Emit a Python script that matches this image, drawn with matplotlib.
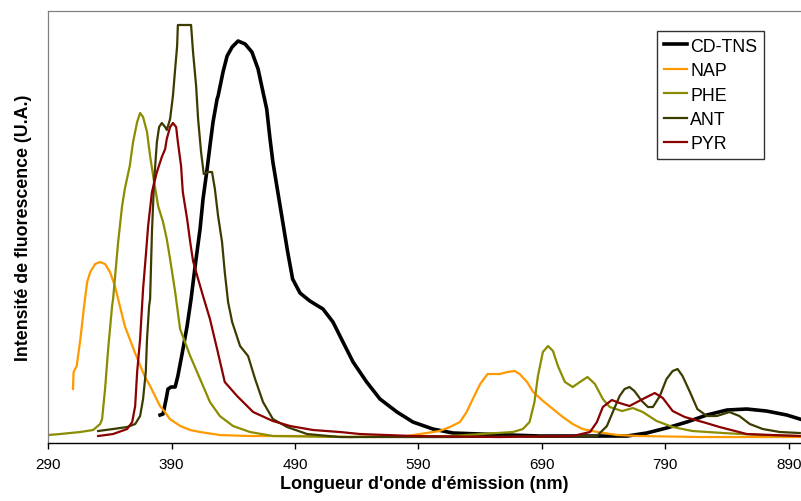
import matplotlib
matplotlib.use("Agg")
import matplotlib.pyplot as plt

plt.rcParams['font.family'] = ['Liberation Sans', 'DejaVu Sans']

# emission spectra: wavelength (nm) / intensity (a.u.)
cd_nm = [380.6, 383, 385.5, 387, 389.5, 392.8, 395, 398.4, 402.5, 405.7, 409, 413, 415.4, 418.7,
         421, 423.5, 426.8, 427.6, 431.6, 434.9, 439, 443.8, 449.5, 455, 460, 464, 467, 469.7,
         472, 476, 480, 484, 488, 494, 502, 512.6, 520.7, 528.8, 537, 548, 558.8, 572.6, 585.5,
         601.7, 618, 640, 688.4, 742.7, 759, 775, 791, 807.5, 823.7, 840, 856, 872, 888.5, 899]
cd_int = [28, 29, 44, 54, 56, 56, 67, 89, 117, 144, 177, 214, 244, 274,
          297, 321, 344, 347, 371, 387, 396, 402, 399, 391, 374, 351, 334, 304,
          281, 251, 221, 191, 164, 150, 142, 134, 121, 101, 81, 61, 44, 31, 21,
          14, 10, 9, 7, 7, 7, 10, 15, 21, 28, 33, 34, 32, 28, 24]

nap_nm = [310, 310.5, 313, 316, 319, 321.5, 324, 328, 332, 336, 340, 344, 348, 352, 356, 360,
          364, 368, 372.5, 376.5, 380.5, 384.5, 388.5, 397, 405, 413, 429, 453, 494, 534.5,
          580.7, 607, 615.5, 623.6, 629, 634, 640, 646, 656, 662, 668, 672, 678, 683, 691,
          699, 707, 715, 723, 735, 751, 769, 818, 899]
nap_int = [54, 71, 77, 104, 137, 161, 171, 179, 181, 179, 171, 157, 137, 117, 104, 91,
           79, 67, 57, 47, 37, 31, 24, 17, 13, 11, 8, 7, 7, 6,
           7, 12, 16, 21, 31, 44, 59, 69, 69, 71, 72, 69, 61, 51, 42,
           34, 26, 19, 14, 11, 8, 7, 6, 6]

phe_nm = [290, 299.6, 315.8, 326.3, 332, 333.6, 336, 338.5, 341.7, 342.5, 346.6, 349.8, 352,
          356, 358.7, 362, 364.4, 366.8, 370, 372.5, 375, 379, 383, 386, 388.7, 392.8, 396.8,
          405, 413, 421, 429, 439.7, 453.5, 472, 534.5, 615.5, 666.5, 674.6, 680, 684, 686.8,
          690.8, 695, 699, 703, 708.7, 715, 720.8, 727, 733, 739.4, 745, 755, 763.7, 771.8,
          783, 796, 812, 837, 866.6, 899]
phe_int = [8, 9, 11, 13, 19, 24, 54, 94, 137, 144, 201, 237, 254,
           277, 301, 321, 330, 326, 311, 287, 267, 237, 221, 204, 184, 151, 114,
           87, 64, 41, 27, 17, 11, 7, 6, 7, 11, 14, 21, 41, 67,
           91, 97, 92, 77, 61, 56, 61, 66, 59, 44, 36, 32, 35, 31,
           22, 16, 12, 10, 8, 7]

ant_nm = [330.4, 342.5, 353.9, 360.4, 364.4, 366.8, 369, 370, 371.7, 372.5, 374, 375.7, 378,
          379.8, 382, 384.7, 386, 388.7, 391, 392.8, 394.4, 395, 405.7, 407.3, 409.8, 411.4,
          413.8, 416, 419.5, 422.7, 425, 427.6, 430.8, 433, 435.7, 439, 445.4, 451.9, 457.6,
          464, 472, 483.5, 499.7, 526, 615.5, 734.6, 742.7, 747.5, 753, 757, 761, 765, 771,
          776, 780, 785.6, 791, 796, 800, 804, 810, 816, 823.7, 831.8, 842, 850, 858.5, 869,
          882.8, 899]
ant_int = [12, 14, 16, 19, 27, 44, 71, 104, 137, 144, 211, 261, 301,
           316, 320, 316, 313, 324, 347, 374, 397, 418, 418, 391, 357, 324,
           291, 269, 271, 271, 254, 227, 201, 171, 141, 121, 97, 87, 64,
           41, 24, 16, 9, 6, 6, 7, 17, 31, 47, 54, 56, 52, 42,
           36, 36, 47, 64, 72, 74, 67, 51, 34, 27, 27, 31, 27, 19, 14,
           11, 10]

pyr_nm = [330.4, 342.5, 353.9, 358, 360.4, 362, 364.4, 366.8, 369, 370.9, 374, 378, 382,
          384.7, 386, 388.7, 391, 393.6, 395, 397.6, 399, 402.5, 405, 407.3, 411.4, 415.4,
          421, 426.8, 433, 443, 456, 472, 486, 504.5, 526.4, 542.6, 585.5, 656, 715, 729,
          734.6, 739.4, 746.7, 753, 761, 771.8, 781.5, 788, 796, 805.8, 820.4, 834, 856, 877,
          899]
pyr_int = [7, 9, 14, 21, 37, 71, 104, 154, 187, 217, 251, 271, 286,
           294, 304, 316, 320, 316, 301, 277, 251, 224, 201, 182, 164, 147,
           124, 94, 61, 47, 31, 22, 17, 13, 11, 9, 7, 6, 7, 11,
           21, 36, 43, 40, 37, 44, 50, 45, 32, 26, 21, 16, 9, 8,
           7]

series = [
    ("CD-TNS", cd_nm, cd_int, "black", 2.6),
    ("NAP", nap_nm, nap_int, "#FF9900", 1.6),
    ("PHE", phe_nm, phe_int, "#8C8C00", 1.6),
    ("ANT", ant_nm, ant_int, "#3C3C00", 1.6),
    ("PYR", pyr_nm, pyr_int, "#8B0000", 1.6),
]

fig = plt.figure(figsize=(8.01, 5.02), dpi=100)
ax = fig.add_axes([0.0603, 0.1155, 0.9397, 0.8606])

for name, x, y, color, lw in series:
    ax.plot(x, y, color=color, lw=lw, label=name, solid_joinstyle='round')

ax.set_xlim(290, 900)
ax.set_ylim(0, 432)
ax.set_xticks(range(290, 891, 100))
ax.set_yticks([])
ax.tick_params(axis='x', direction='out', length=4, width=1, labelsize=11, pad=6)

ax.spines['right'].set_visible(False)
for side in ('top', 'left'):
    ax.spines[side].set_color('#808080')
    ax.spines[side].set_linewidth(0.9)
ax.spines['bottom'].set_color('black')
ax.spines['bottom'].set_linewidth(1.0)

ax.set_xlabel("Longueur d'onde d'émission (nm)", fontsize=13, fontweight='bold', labelpad=3)
ax.set_ylabel("Intensité de fluorescence (U.A.)", fontsize=12.8, fontweight='bold', labelpad=12)

leg = ax.legend(loc='upper right', bbox_to_anchor=(0.951, 0.954), fontsize=12.8,
                frameon=True, fancybox=False, handlelength=1.3, handletextpad=0.2,
                labelspacing=0.42, borderpad=0.38, borderaxespad=0)
leg.get_frame().set_edgecolor('black')
leg.get_frame().set_linewidth(1.0)

fig.savefig('out.png', dpi=100)
